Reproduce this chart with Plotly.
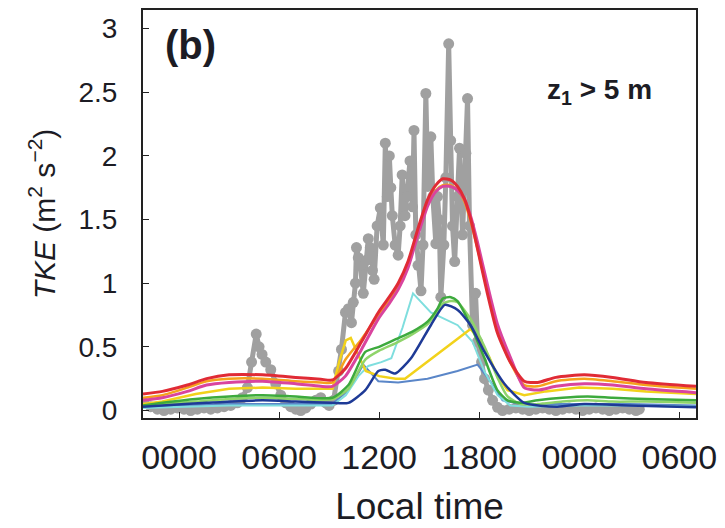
import plotly.graph_objects as go

# ---------------- data (time in hours from first midnight, TKE in m2 s-2) ----------------
tick_vals = [0, 6, 12, 18, 24, 30]
tick_text = ["0000", "0600", "1200", "1800", "0000", "0600"]
y_tick_vals = [0, 0.5, 1, 1.5, 2, 2.5, 3]
y_tick_text = ["0", "0.5", "1", "1.5", "2", "2.5", "3"]

obs_t = [-2.1, -1.7, -1.3, -0.9, -0.5, -0.1, 0.3, 0.7, 1.1, 1.5, 1.9, 2.3, 2.7, 3.1, 3.5,
         3.8, 4.1, 4.35, 4.63, 4.8, 4.98, 5.2, 5.5, 5.8, 6.1, 6.4, 6.7, 7.0, 7.3, 7.6, 7.9,
         8.2, 8.5, 8.8, 9.0,
         9.27, 9.57, 9.74, 9.98, 10.16, 10.34, 10.45, 10.58, 10.64, 10.75, 10.87, 11.05, 11.23,
         11.35, 11.47, 11.6, 11.7, 11.88, 12.07, 12.25, 12.37, 12.49, 12.61, 12.7, 12.79, 12.96,
         13.14, 13.26, 13.38, 13.55, 13.67, 13.85, 14.0, 14.09, 14.2, 14.33, 14.51, 14.63, 14.8,
         14.92, 15.1, 15.22, 15.4, 15.5, 15.6, 15.7, 15.88, 16.0, 16.17, 16.29, 16.4, 16.53,
         16.7, 16.82, 17.0, 17.2, 17.3, 17.42, 17.6, 17.78, 17.9, 18.14, 18.32, 18.55, 18.8, 19.1,
         19.4, 19.8, 20.2, 20.6, 21.0, 21.4, 21.8, 22.2, 22.6, 23.0, 23.4, 23.8, 24.2, 24.6,
         25.0, 25.4, 25.8, 26.2, 26.6, 27.0, 27.4, 27.6]
obs_v = [0.06, 0.03, 0.01, 0.0, 0.01, 0.02, 0.01, 0.0, 0.01, 0.02, 0.01, 0.02, 0.03, 0.04, 0.06,
         0.1, 0.18, 0.38, 0.6, 0.5, 0.44, 0.38, 0.32, 0.21, 0.12, 0.06, 0.03, 0.01, 0.0, 0.02, 0.05,
         0.08, 0.1, 0.06, 0.04,
         0.08, 0.31, 0.48, 0.77, 0.8, 0.69, 0.85, 1.0, 1.28, 1.2, 1.14, 0.92, 1.18,
         1.35, 1.28, 1.1, 1.03, 1.45, 1.59, 1.3, 2.1, 1.68, 2.0, 1.75, 1.53, 1.3,
         1.22, 1.45, 1.85, 1.53, 1.68, 1.96, 1.6, 2.2, 1.38, 1.14, 0.94, 1.3, 2.49,
         1.76, 2.15, 1.68, 1.31, 1.68, 1.5, 0.89, 1.3, 1.83, 2.88, 2.12, 1.45, 1.17,
         1.68, 2.06, 1.38, 2.02, 2.45, 1.45, 0.67, 0.92, 0.54, 0.38, 0.25, 0.16, 0.08, 0.025,
         0.0, 0.01, 0.02, 0.01, 0.0, 0.01, 0.02, 0.01, 0.0, 0.01, 0.02, 0.01, 0.0, 0.01,
         0.02, 0.01, 0.0, 0.01, 0.02, 0.01, 0.0, 0.01]

big_t = [-2.16, -1.0, 0.5, 1.65, 3.0, 5.0, 7.0, 8.5, 9.2, 9.98, 10.94, 11.95, 12.6, 13.14, 13.73,
         14.33, 14.92, 15.4, 15.82, 16.3, 16.7, 17.12, 17.5, 17.9, 18.49, 19.09, 19.86, 20.7,
         21.5, 22.6, 24.3, 26.0, 28.0, 31.0]
red_v = [0.13, 0.15, 0.2, 0.25, 0.28, 0.28, 0.26, 0.245, 0.24, 0.33, 0.54, 0.77, 0.89, 1.0, 1.17,
         1.43, 1.66, 1.77, 1.82, 1.81, 1.76, 1.66, 1.5, 1.27, 0.92, 0.61, 0.38, 0.23,
         0.22, 0.26, 0.28, 0.26, 0.22, 0.19]
orange_v = [0.1, 0.12, 0.18, 0.23, 0.25, 0.25, 0.23, 0.22, 0.22, 0.4, 0.56, 0.75, 0.86, 0.97, 1.14,
            1.4, 1.62, 1.73, 1.77, 1.77, 1.73, 1.64, 1.48, 1.27, 0.94, 0.64, 0.38, 0.2,
            0.19, 0.23, 0.25, 0.23, 0.2, 0.17]
magenta_v = [0.08, 0.1, 0.15, 0.2, 0.22, 0.23, 0.21, 0.19, 0.19, 0.27, 0.48, 0.72, 0.84, 0.95, 1.12,
             1.38, 1.61, 1.72, 1.76, 1.76, 1.73, 1.66, 1.52, 1.32, 0.99, 0.68, 0.42, 0.18,
             0.16, 0.19, 0.21, 0.2, 0.17, 0.14]

yellow_t = [-2.16, -1.0, 1.0, 3.0, 5.0, 7.0, 9.2, 9.6, 10.0, 10.3, 10.7, 11.2, 12.0, 13.0, 13.55,
            17.48, 18.0, 18.6, 19.1, 19.7, 20.7, 22.0, 24.0, 26.0, 28.0, 31.0]
yellow_v = [0.05, 0.07, 0.13, 0.17, 0.18, 0.17, 0.17, 0.38, 0.55, 0.57, 0.45, 0.31, 0.27, 0.25, 0.25,
            0.64, 0.56, 0.42, 0.27, 0.16, 0.12, 0.15, 0.18, 0.17, 0.15, 0.13]

green_t = [-2.16, -1.0, 1.0, 3.0, 5.0, 7.0, 9.2, 10.16, 11.17, 12.0, 13.0, 14.0, 14.92, 15.5,
           15.82, 16.3, 16.7, 17.48, 18.32, 19.09, 19.7, 20.5, 21.5, 23.0, 24.5, 26.0, 28.0, 31.0]
green_v = [0.04, 0.06, 0.09, 0.11, 0.12, 0.11, 0.1, 0.2, 0.46, 0.5, 0.56, 0.62, 0.7, 0.8,
           0.88, 0.89, 0.86, 0.67, 0.41, 0.16, 0.08, 0.06, 0.08, 0.1, 0.11, 0.1, 0.09, 0.08]
lgreen_t = green_t
lgreen_v = [0.03, 0.05, 0.07, 0.09, 0.1, 0.09, 0.09, 0.17, 0.4, 0.47, 0.53, 0.6, 0.68, 0.78,
            0.84, 0.86, 0.85, 0.72, 0.5, 0.26, 0.11, 0.05, 0.05, 0.07, 0.08, 0.07, 0.07, 0.06]

cyan_t = [-2.16, 0.0, 3.0, 6.0, 9.2, 10.0, 10.76, 11.35, 12.13, 12.73, 13.4, 14.03, 15.1, 16.71,
          17.6, 18.3, 19.1, 19.86, 21.0, 24.0, 27.0, 31.0]
cyan_v = [0.02, 0.03, 0.04, 0.04, 0.04, 0.12, 0.27, 0.35, 0.38, 0.41, 0.65, 0.92, 0.77, 0.67,
          0.54, 0.31, 0.12, 0.04, 0.03, 0.04, 0.04, 0.03]

steel_t = [-2.16, 0.0, 3.0, 6.0, 9.2, 10.16, 11.05, 11.95, 13.14, 14.9, 16.7, 17.9, 18.67, 19.4,
           20.5, 24.0, 27.0, 31.0]
steel_v = [0.03, 0.04, 0.05, 0.05, 0.05, 0.16, 0.36, 0.23, 0.22, 0.25, 0.31, 0.36, 0.23, 0.08,
           0.05, 0.05, 0.05, 0.04]

navy_t = [-2.16, -1.0, 1.65, 5.0, 7.0, 9.15, 10.16, 11.17, 11.95, 12.37, 12.96, 13.91, 15.1,
          15.94, 16.71, 17.48, 18.32, 19.51, 20.7, 22.66, 24.3, 27.0, 31.0]
navy_v = [0.03, 0.04, 0.06, 0.08, 0.07, 0.06, 0.06, 0.16, 0.31, 0.32, 0.29, 0.41, 0.67,
          0.83, 0.79, 0.67, 0.46, 0.21, 0.06, 0.03, 0.05, 0.04, 0.025]

# ---------------- figure ----------------
FONT = "Liberation Sans, Arial, Helvetica, sans-serif"
TXT = "#1c1c24"
fig = go.Figure()

fig.add_trace(go.Scatter(x=obs_t, y=obs_v, mode="lines+markers",
                         line=dict(color="#a0a0a0", width=5),
                         marker=dict(color="#a0a0a0", size=11), showlegend=False))

models = [
    (steel_t, steel_v, "#5a86c8", 2, "linear"),
    (cyan_t, cyan_v, "#7fdede", 2, "linear"),
    (yellow_t, yellow_v, "#f2d21b", 2.5, "linear"),
    (lgreen_t, lgreen_v, "#8fd46a", 2.5, "spline"),
    (green_t, green_v, "#3daa3d", 2.5, "spline"),
    (navy_t, navy_v, "#1e3a96", 2.5, "spline"),
    (big_t, orange_v, "#f5a21c", 2.5, "spline"),
    (big_t, magenta_v, "#d9449e", 3, "spline"),
    (big_t, red_v, "#e02b35", 3, "spline"),
]
for tt, vv, col, w, shape in models:
    line = dict(color=col, width=w, shape=shape)
    if shape == "spline":
        line["smoothing"] = 0.6
    fig.add_trace(go.Scatter(x=tt, y=vv, mode="lines", line=line, showlegend=False))

fig.update_layout(
    width=725, height=528,
    margin=dict(l=143, r=25, t=8, b=100),
    paper_bgcolor="white", plot_bgcolor="white",
    font=dict(family=FONT, color=TXT),
    xaxis=dict(range=[-2.16, 31.0], tickvals=tick_vals, ticktext=tick_text,
               showline=True, mirror=True, linecolor="#222", linewidth=2,
               ticks="inside", ticklen=6, tickcolor="#222", showgrid=False, zeroline=False,
               tickfont=dict(size=34, family=FONT, color=TXT), ticklabelstandoff=8,
               title=dict(text="Local time", font=dict(size=37, family=FONT, color=TXT),
                          standoff=18)),
    yaxis=dict(range=[-0.059, 3.146], tickvals=y_tick_vals, ticktext=y_tick_text,
               showline=True, mirror=True, linecolor="#222", linewidth=2,
               ticks="inside", ticklen=6, tickcolor="#222", showgrid=False, zeroline=False,
               tickfont=dict(size=28, family=FONT, color=TXT), ticklabelstandoff=18,
               title=dict(text="<i>TKE</i> (m<sup>2</sup> s<sup>−2</sup>)",
                          font=dict(size=30, family=FONT, color=TXT), standoff=14)),
    annotations=[
        dict(text="<b>(b)</b>", xref="paper", yref="paper", x=0.036, y=0.914,
             xanchor="left", yanchor="middle", showarrow=False,
             font=dict(size=40, family=FONT, color=TXT)),
        dict(text="<b>z<sub>1</sub> > 5 m</b>", xref="paper", yref="paper", x=0.727, y=0.80,
             xanchor="left", yanchor="middle", showarrow=False,
             font=dict(size=28, family=FONT, color=TXT)),
    ],
)

fig.write_html("out.html")
